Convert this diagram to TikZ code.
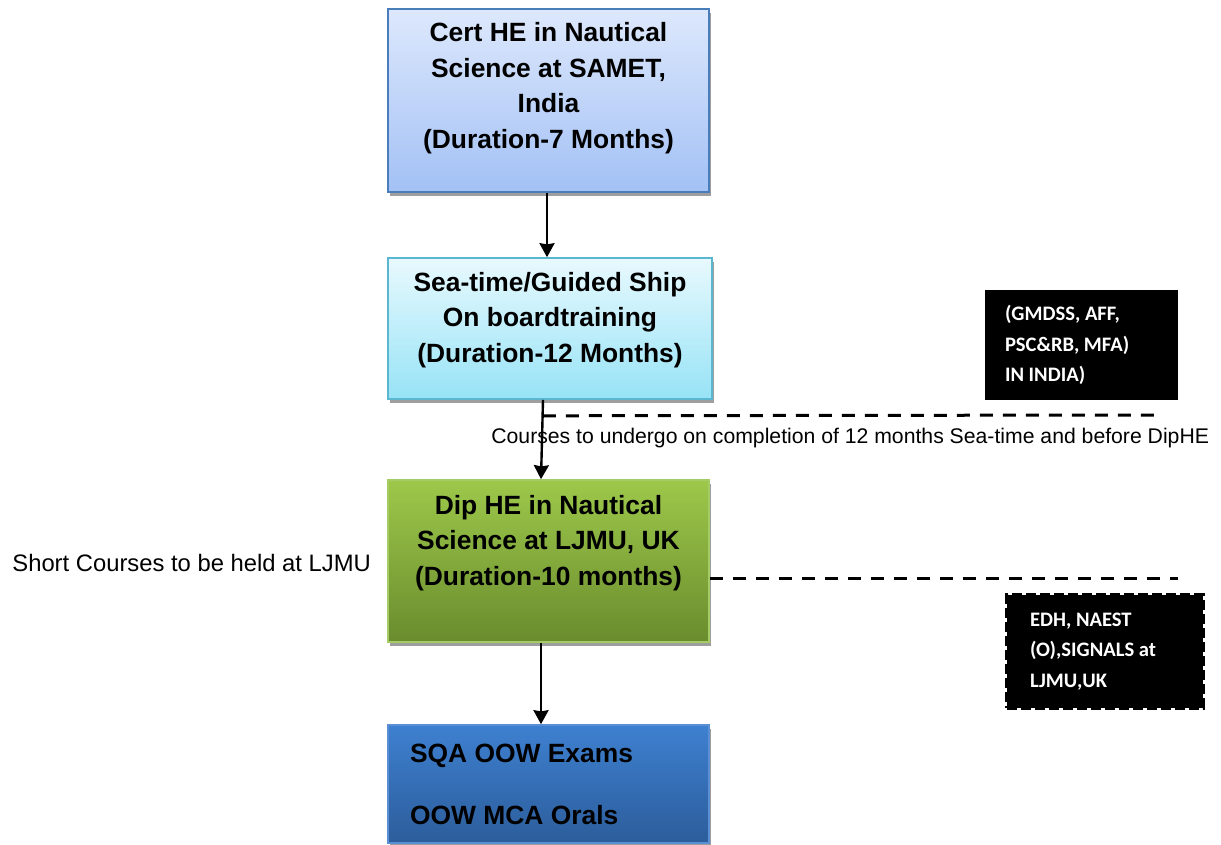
\documentclass[tikz,border=0pt]{standalone}
\usepackage{fontspec}
\setmainfont{Liberation Sans}
\newfontfamily\calibri{Carlito}
\usepackage{tikz}
\usetikzlibrary{positioning,arrows.meta,calc,shadows}
\definecolor{certtop}{HTML}{DDE8FC}
\definecolor{certbot}{HTML}{A3C1F5}
\definecolor{certline}{HTML}{4A7EBB}
\definecolor{seatop}{HTML}{E8F9FE}
\definecolor{seabot}{HTML}{97E3F6}
\definecolor{sealine}{HTML}{5BB7CF}
\definecolor{diptop}{HTML}{9DC84A}
\definecolor{dipbot}{HTML}{6A8C2E}
\definecolor{dipline}{HTML}{A5CB64}
\definecolor{oowtop}{HTML}{3E80D0}
\definecolor{oowbot}{HTML}{2C5D9B}
\definecolor{oowline}{HTML}{5A8FD5}
\tikzset{
  stage/.style={rectangle,line width=0.8pt,align=center,
    font=\bfseries\fontsize{13.2}{17.75}\selectfont,
    minimum width=160.5pt,
    drop shadow={shadow xshift=1.2pt,shadow yshift=-2pt,fill=black!38,opacity=1}},
  cert/.style={stage,draw=certline,top color=certtop,bottom color=certbot},
  sea/.style={stage,draw=sealine,top color=seatop,bottom color=seabot},
  dip/.style={stage,draw=dipline,top color=diptop,bottom color=dipbot},
  oow/.style={stage,draw=oowline,top color=oowtop,bottom color=oowbot},
  note/.style={rectangle,fill=black,text=white,align=flush left,
    font=\calibri\bfseries\fontsize{10.3}{15.25}\selectfont},
  remark/.style={font=\fontsize{10.6}{13}\selectfont,inner sep=0pt},
  flow/.style={-{Stealth[length=7pt,width=7.5pt,inset=0.6pt]},line width=1.2pt},
  guide/.style={line width=1.5pt,dash pattern=on 6.5pt off 5pt}
}
\begin{document}
\begin{tikzpicture}[x=0.5pt,y=-0.5pt]
\useasboundingbox (0,0) rectangle (1221,845);
% stages
\node[cert,minimum height=91.5pt,text depth=15.3pt] (cert) at (548.5,100.5)
  {Cert HE in Nautical\\Science at SAMET,\\India\\ (Duration-7 Months)};
\node[sea,minimum width=162pt,minimum height=70.5pt,text depth=11.3pt] (sea) at (550,328.5)
  {Sea-time/Guided Ship\\On boardtraining\\(Duration-12 Months)};
\node[dip,minimum height=81pt,text depth=20.8pt] (dip) at (548.5,561)
  {Dip HE in Nautical\\Science at LJMU, UK\\(Duration-10 months)};
\node[oow,minimum height=59pt,align=flush left,text width=138.5pt,inner xsep=11pt] (oow) at (548.5,784)
  {SQA OOW Exams\\[13.25pt]OOW MCA Orals};
% courses
\node[note,minimum width=96.5pt,minimum height=55pt,text width=76.5pt,inner xsep=10pt] (india) at (1081.5,345)
  {(GMDSS, AFF,\\PSC\&RB, MFA)\\IN INDIA)};
\node[note,draw=black,line width=2pt,dash pattern=on 5pt off 2pt,
  minimum width=98pt,minimum height=56.5pt,text width=75pt,inner xsep=11.5pt] (ljmu) at (1105,651.5)
  {EDH, NAEST\\(O),SIGNALS at\\LJMU,UK};
\node[remark,anchor=west] (courses) at (491,438)
  {Courses to undergo on completion of 12 months Sea-time and before DipHE};
\node[remark,font=\fontsize{11.9}{14}\selectfont,anchor=west] (short) at (12,563)
  {Short Courses to be held at LJMU};
% arrows
\draw[flow] ([xshift=-0.75pt]cert.south) -- ([xshift=-1.5pt]sea.north);
\draw[flow] ([xshift=-3.5pt]sea.south) -- ([xshift=-3.75pt]dip.north);
\draw[flow] ([xshift=-3.75pt]dip.south) -- ([xshift=-3.75pt]oow.north);
% dashed leaders
\coordinate (sea leader) at ($([xshift=-3.6pt]sea.south)+(0,-8pt)$);
\coordinate (sea end) at (1155,415);
\draw[guide] (sea leader) -- (sea end);
\coordinate (dip end) at (1178,578);
\draw[guide] ([yshift=-8.5pt]dip.east) -- (dip end);
\end{tikzpicture}
\end{document}
